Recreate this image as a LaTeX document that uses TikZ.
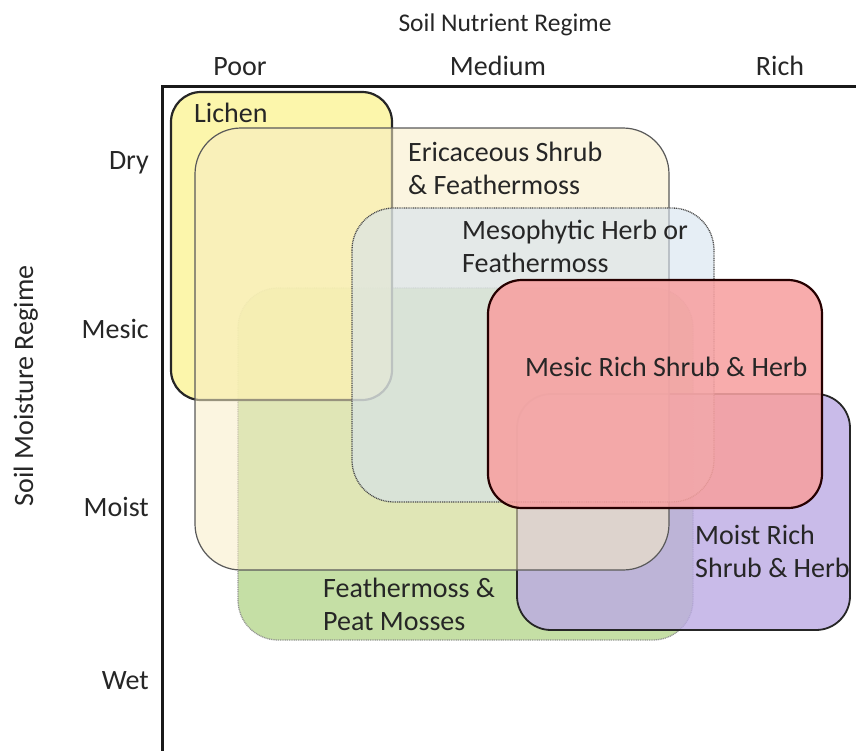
\documentclass[tikz,border=0pt]{standalone}
\usepackage{fontspec}
\setmainfont{Carlito}
\begin{document}
\begin{tikzpicture}[x=1pt,y=-1pt,
  lbl/.style={font=\fontsize{28}{33}\selectfont, text=black!85, inner sep=0pt},
  ttl/.style={font=\fontsize{25.5}{30}\selectfont, text=black!85, inner sep=0pt},
  blbl/.style={lbl, align=left, anchor=north west},
  solidbox/.style={draw=black!85, line width=2.2pt},
  dotbox/.style={draw=black!70, line width=1.3pt, dash pattern=on 1pt off 0.8pt},
]
\definecolor{cLichen}{HTML}{FCF49C}
\definecolor{cEric}{HTML}{F7EDC6}
\definecolor{cMeso}{HTML}{D5E2EE}
\definecolor{cPeat}{HTML}{B6D78E}
\definecolor{cRed}{HTML}{F7A1A1}
\definecolor{cPurp}{HTML}{BBAAE4}
\useasboundingbox (0,0) rectangle (856,750);
% axes
\draw[line width=3pt, black!90] (162,752) -- (162,86) -- (858,86);
% boxes
\path[fill=cPeat, fill opacity=0.8, dotbox, draw=black!45, draw opacity=0.9, rounded corners=40] (238,288) rectangle (693,640);
\path[fill=cPurp, fill opacity=0.8, solidbox, line width=1.8pt, rounded corners=34] (517,394) rectangle (850,630);
\path[fill=cLichen, fill opacity=0.85, solidbox, rounded corners=30] (171,92) rectangle (392,400);
\path[fill=cEric, fill opacity=0.55, draw=black!65, line width=1.2pt, rounded corners=46] (195,128) rectangle (669,570);
\path[fill=cMeso, fill opacity=0.6, dotbox, rounded corners=42] (352,208) rectangle (714,502);
\path[fill=cRed, fill opacity=0.88, draw=black!85!red, line width=2.2pt, rounded corners=34] (488,280) rectangle (822,508);
% axis labels
\node[ttl, anchor=base] (xtitle) at (505,31) {Soil Nutrient Regime};
\node[lbl, anchor=base] (poor) at (240,75) {Poor};
\node[lbl, anchor=base] (medium) at (498,75) {Medium};
\node[lbl, anchor=base] (rich) at (780,75) {Rich};
\node[lbl, rotate=90, anchor=base] (ytitle) at (33,386) {Soil Moisture Regime};
\node[lbl, anchor=base east] (dry) at (149,169) {Dry};
\node[lbl, anchor=base east] (mesic) at (149,338) {Mesic};
\node[lbl, anchor=base east] (moist) at (149,516) {Moist};
\node[lbl, anchor=base east] (wet) at (149,689) {Wet};
% box labels
\node[blbl] (tlichen) at (194,103) {Lichen};
\node[blbl] (teric) at (408,142) {Ericaceous Shrub\\\& Feathermoss};
\node[blbl] (tmeso) at (462,220) {Mesophytic Herb or\\Feathermoss};
\node[blbl] (tred) at (525,357) {Mesic Rich Shrub \& Herb};
\node[blbl] (tpurp) at (695,525) {Moist Rich\\Shrub \& Herb};
\node[blbl] (tpeat) at (323,578) {Feathermoss \&\\Peat Mosses};
\end{tikzpicture}
\end{document}
